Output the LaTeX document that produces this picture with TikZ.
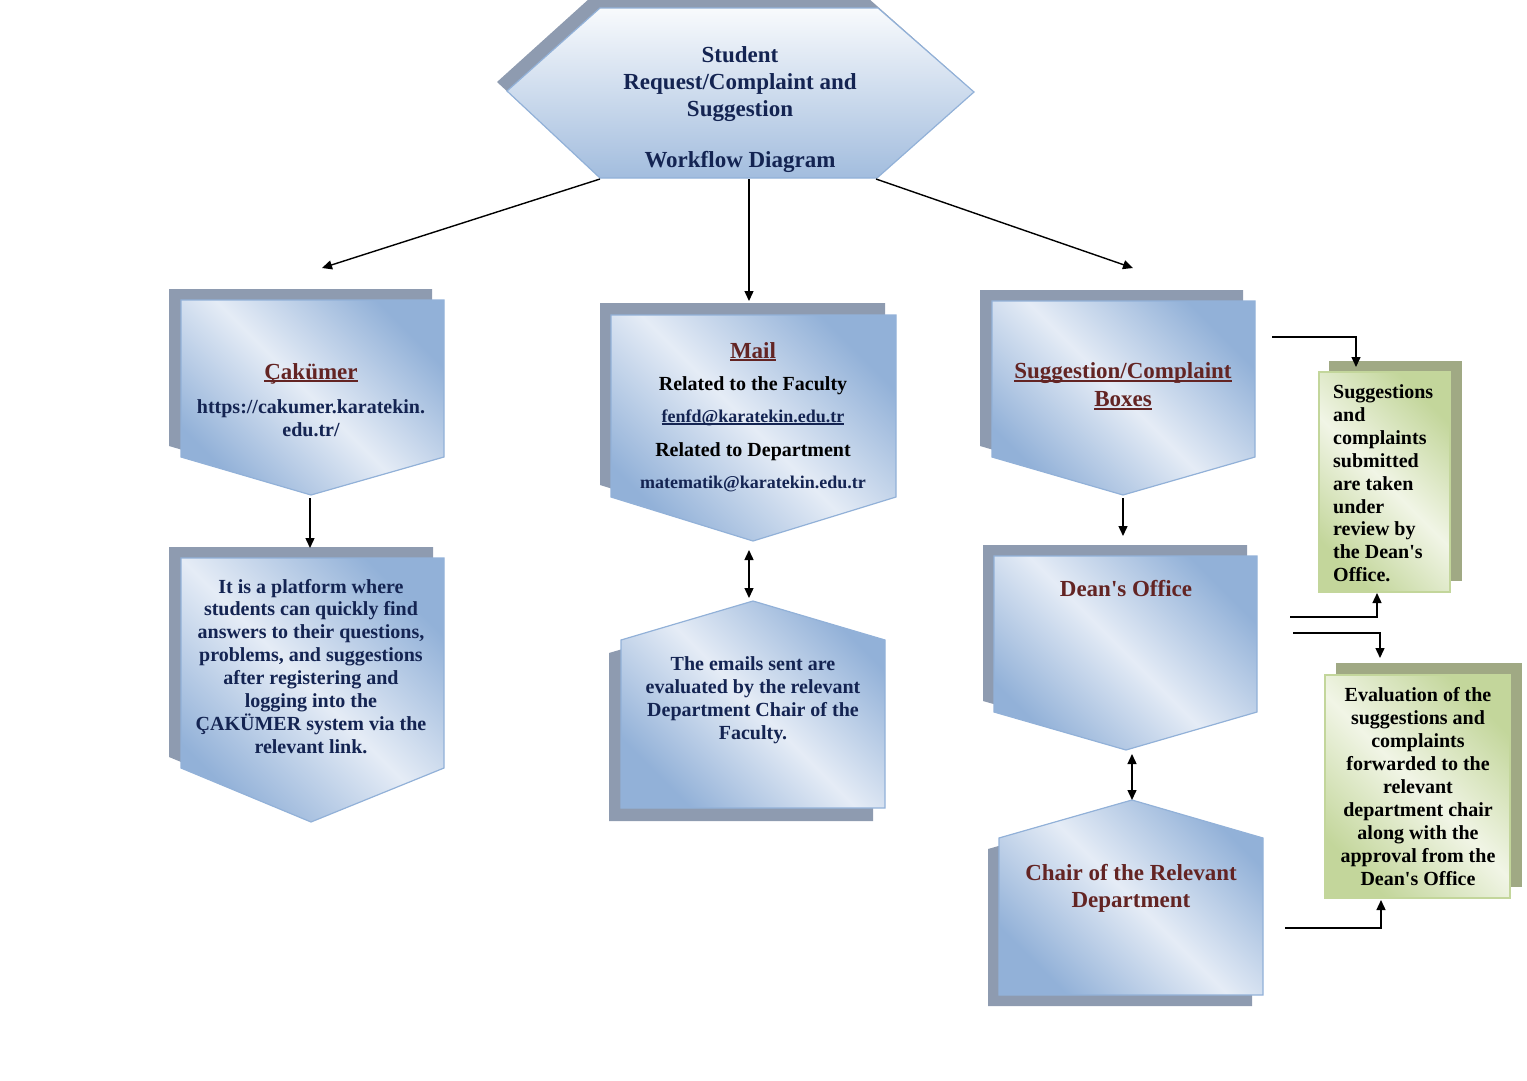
\documentclass[tikz,border=0pt]{standalone}
\usepackage{fontspec}
\setmainfont{Liberation Serif}
\usetikzlibrary{arrows.meta}
\definecolor{boxBlue}{RGB}{146,177,216}
\definecolor{boxLight}{RGB}{229,236,246}
\definecolor{shadowBlue}{RGB}{142,155,176}
\definecolor{boxGreen}{RGB}{195,214,155}
\definecolor{greenLight}{RGB}{241,245,230}
\definecolor{shadowGreen}{RGB}{160,169,132}
\definecolor{textNavy}{RGB}{20,36,82}
\definecolor{textRed}{RGB}{99,36,35}
\newcommand{\ulword}[1]{\setbox0=\hbox{#1}\rlap{\rule[-2.6pt]{\wd0}{1.2pt}}\box0}

\begin{document}
\begin{tikzpicture}[
  x=1pt, y=-1pt,
  every node/.style={inner sep=0pt, font=\bfseries},
  bluebody/.style={left color=boxBlue, right color=boxBlue, middle color=boxLight,
    shading angle=135, draw=boxBlue, line width=1.2pt},
  greenbody/.style={left color=boxGreen, right color=boxGreen, middle color=greenLight,
    shading angle=135, draw=boxGreen, line width=1.2pt},
  head/.style={font=\fontsize{23}{27.3}\selectfont\bfseries, text=textRed, align=center},
  body/.style={font=\fontsize{20}{22.9}\selectfont\bfseries, text=textNavy, align=center},
  link/.style={font=\fontsize{18}{21}\selectfont\bfseries, text=textNavy},
  conn/.style={line width=1.4pt},
  >={Triangle[length=10pt,width=9pt]}
]
  \useasboundingbox (0,0) rectangle (1527,1080);

  % title
  \fill[shadowBlue] (497,82) -- (590,-2) -- (868,-2) -- (963,82) -- (866,168) -- (590,168) -- cycle;
  \shade[top color=white!94!boxBlue, bottom color=boxBlue!85, draw=boxBlue, line width=1.2pt]
    (507,91) -- (600,8) -- (878,8) -- (974,92) -- (877,178) -- (600,178) -- cycle;
  \node[head, text=textNavy] (title) at (740,109.7)
    {Student\\Request/Complaint and\\Suggestion\\[23.7pt]Workflow Diagram};

  % left column
  \fill[shadowBlue] (169,289) -- (432,289) -- (432,446) -- (299,484) -- (169,446) -- cycle;
  \shade[bluebody] (181,300) -- (444,300) -- (444,457) -- (311,495) -- (181,457) -- cycle;
  \node[head, anchor=base] (cakumer) at (311,379) {\ulword{Çakümer}};
  \node[body] (cakumerUrl) at (311,418) {https://cakumer.karatekin.\\edu.tr/};

  \fill[shadowBlue] (169,547) -- (433,547) -- (433,757) -- (300,811) -- (169,757) -- cycle;
  \shade[bluebody] (181,558) -- (444,558) -- (444,768) -- (311,822) -- (181,768) -- cycle;
  \node[body] (cakumerInfo) at (311,666.3)
    {It is a platform where\\students can quickly find\\answers to their questions,\\problems, and suggestions\\after registering and\\logging into the\\ÇAKÜMER system via the\\relevant link.};

  % middle column
  \fill[shadowBlue] (600,303) -- (885,303) -- (885,485) -- (742,529) -- (600,485) -- cycle;
  \shade[bluebody] (611,315) -- (896,315) -- (896,497) -- (753,541) -- (611,497) -- cycle;
  \node[head, anchor=base] (mail) at (753,358) {\ulword{Mail}};
  \node[body, text=black, anchor=base] (mailFaculty) at (753,390) {Related to the Faculty};
  \node[link, anchor=base] (mailFenfd) at (753,422) {\ulword{fenfd@karatekin.edu.tr}};
  \node[body, text=black, anchor=base] (mailDept) at (753,456) {Related to Department};
  \node[link, anchor=base] (mailMat) at (753,488) {matematik@karatekin.edu.tr};

  \fill[shadowBlue] (741,614) -- (873,653) -- (873,821) -- (609,821) -- (609,653) -- cycle;
  \shade[bluebody] (753,601) -- (885,640) -- (885,808) -- (621,808) -- (621,640) -- cycle;
  \node[body] (emails) at (753,699.9)
    {The emails sent are\\evaluated by the relevant\\Department Chair of the\\Faculty.};

  % right column
  \fill[shadowBlue] (980,290) -- (1243,290) -- (1243,446) -- (1111,484) -- (980,446) -- cycle;
  \shade[bluebody] (992,301) -- (1255,301) -- (1255,457) -- (1123,495) -- (992,457) -- cycle;
  \node[head, font=\fontsize{23}{28}\selectfont\bfseries] (boxes) at (1123,386.3)
    {\ulword{Suggestion/Complaint}\\\ulword{Boxes}};

  \fill[shadowBlue] (983,545) -- (1247,545) -- (1247,701) -- (1115,739) -- (983,701) -- cycle;
  \shade[bluebody] (994,556) -- (1257,556) -- (1257,712) -- (1126,750) -- (994,712) -- cycle;
  \node[head, anchor=base] (dean) at (1126,596) {Dean\textquotesingle s Office};

  \fill[shadowBlue] (1121,811) -- (1252,849) -- (1252,1006) -- (988,1006) -- (988,849) -- cycle;
  \shade[bluebody] (1132,800) -- (1263,838) -- (1263,995) -- (999,995) -- (999,838) -- cycle;
  \node[head, font=\fontsize{23}{27}\selectfont\bfseries] (chair) at (1131,888)
    {Chair of the Relevant\\Department};

  % green notes
  \fill[shadowGreen] (1329,361) rectangle (1462,581);
  \shade[greenbody] (1319,372) rectangle (1450,592);
  \node[body, text=black, align=left, anchor=west] (review) at (1333,483.3)
    {Suggestions\\and\\complaints\\submitted\\are taken\\under\\review by\\the Dean\textquotesingle s\\Office.};

  \fill[shadowGreen] (1336,663) rectangle (1522,887);
  \shade[greenbody] (1325,675) rectangle (1510,898);
  \node[body, text=black] (forward) at (1418,786.6)
    {Evaluation of the\\suggestions and\\complaints\\forwarded to the\\relevant\\department chair\\along with the\\approval from the\\Dean\textquotesingle s Office};

  % connectors
  \coordinate (titleSW) at (600,179);
  \coordinate (titleS) at (749,179);
  \coordinate (titleSE) at (876,179);
  \coordinate (cakumerIn) at (322,268);
  \coordinate (mailIn) at (749,301);
  \coordinate (boxesIn) at (1133,268);
  \coordinate (cakumerOut) at (310,498);
  \coordinate (cakumerInfoIn) at (310,548);
  \coordinate (mailOut) at (749,550);
  \coordinate (emailsIn) at (749,598);
  \coordinate (boxesOut) at (1123,498);
  \coordinate (deanIn) at (1123,536);
  \coordinate (deanOut) at (1132,754);
  \coordinate (chairIn) at (1132,800);
  \coordinate (boxesSide) at (1272,337);
  \coordinate (reviewIn) at (1356,367);
  \coordinate (deanSideA) at (1290,617);
  \coordinate (reviewOut) at (1377,593);
  \coordinate (deanSideB) at (1293,633);
  \coordinate (forwardIn) at (1380,658);
  \coordinate (chairSide) at (1285,928);
  \coordinate (forwardOut) at (1381,900);

  \draw[->, conn] (titleSW) -- (cakumerIn);
  \draw[->, conn] (titleS) -- (mailIn);
  \draw[->, conn] (titleSE) -- (boxesIn);
  \draw[->, conn] (cakumerOut) -- (cakumerInfoIn);
  \draw[<->, conn] (mailOut) -- (emailsIn);
  \draw[->, conn] (boxesOut) -- (deanIn);
  \draw[<->, conn] (deanOut) -- (chairIn);
  \draw[->, conn] (boxesSide) -| (reviewIn);
  \draw[->, conn] (deanSideA) -| (reviewOut);
  \draw[->, conn] (deanSideB) -| (forwardIn);
  \draw[->, conn] (chairSide) -| (forwardOut);
\end{tikzpicture}
\end{document}
